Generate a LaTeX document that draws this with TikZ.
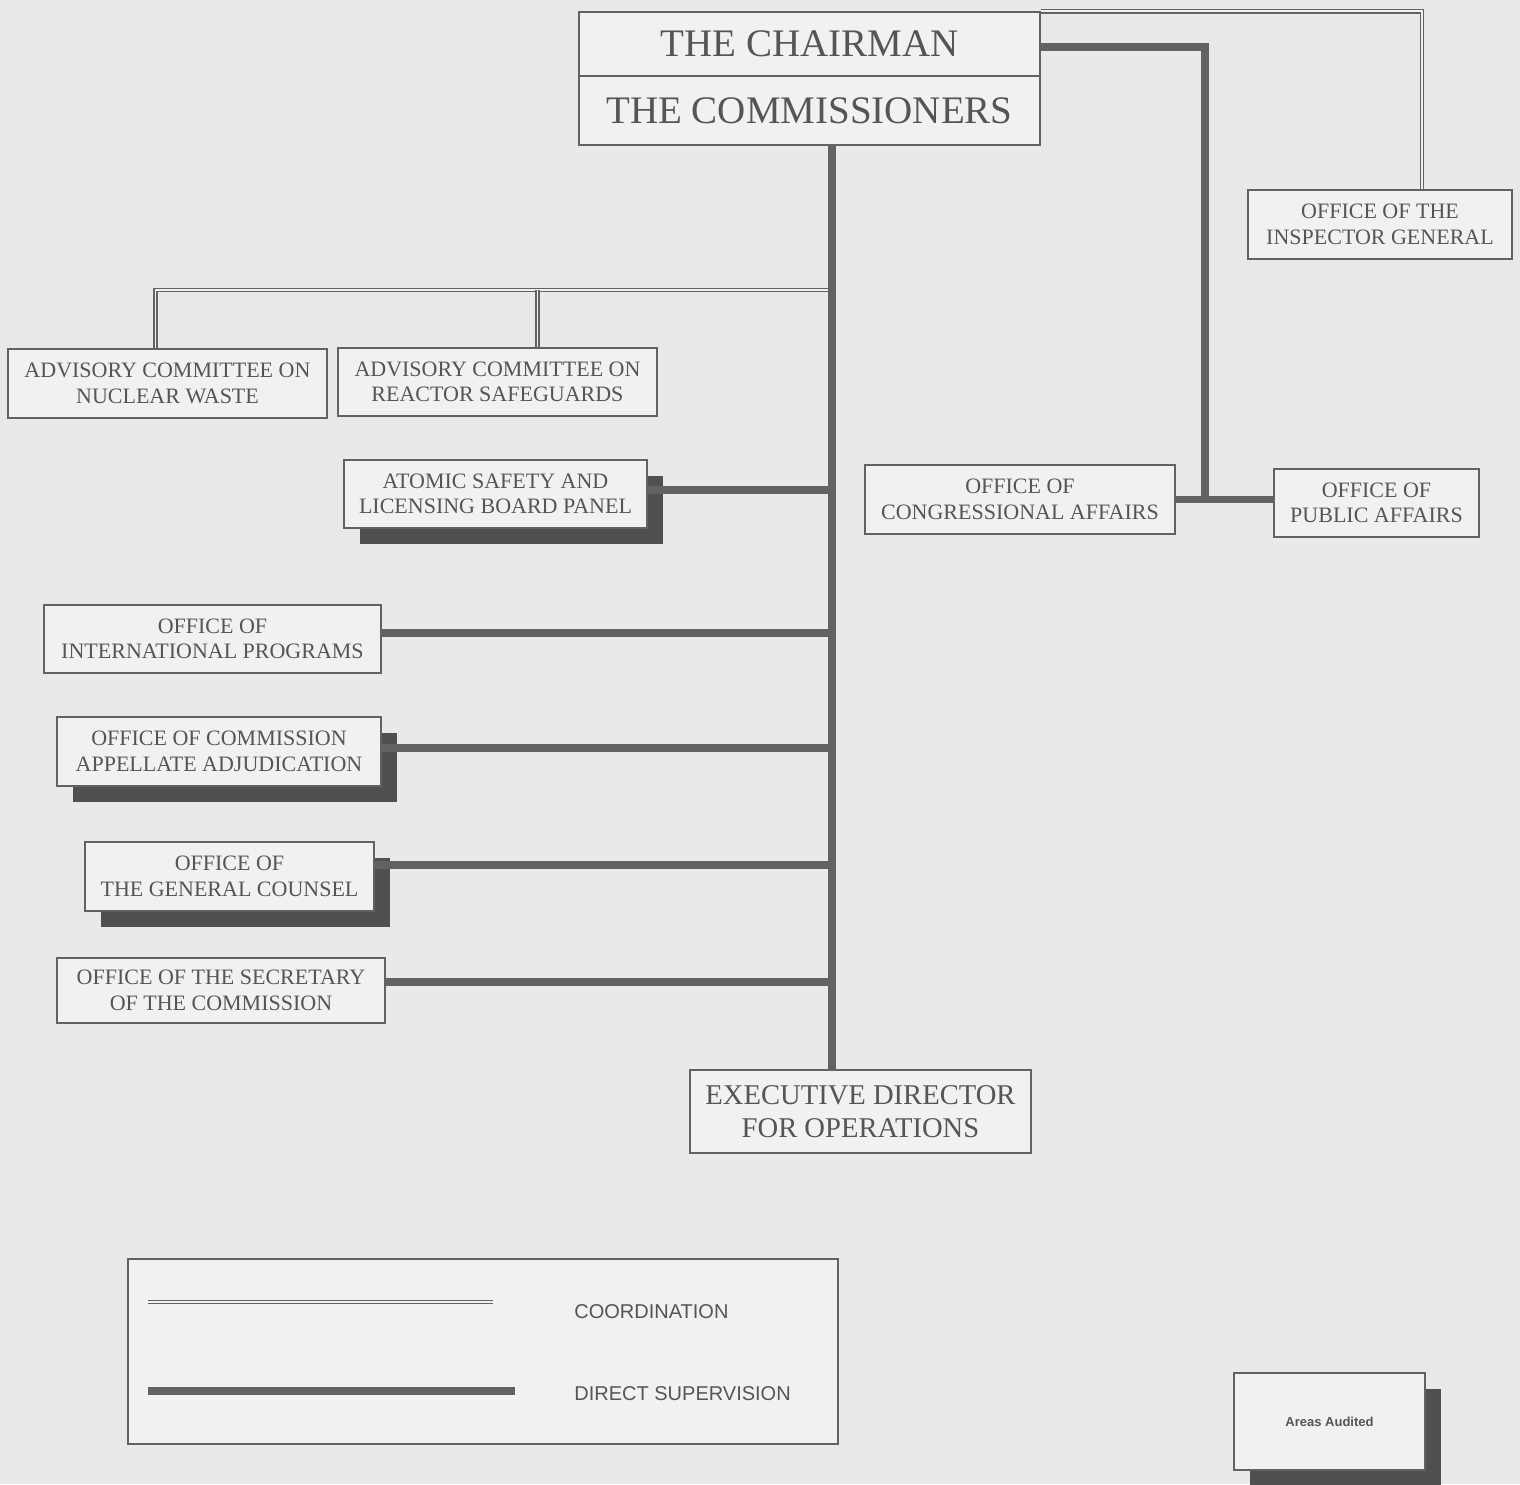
\documentclass[tikz,border=0pt]{standalone}
\usepackage{fontspec}
\setmainfont{Liberation Serif}
\newfontfamily\legendfont{Liberation Sans}
\usetikzlibrary{shadows}

\definecolor{bgcol}{RGB}{233,233,231}
\definecolor{boxcol}{RGB}{241,241,239}
\definecolor{inkcol}{RGB}{85,85,85}
\definecolor{rulecol}{RGB}{98,98,98}
\definecolor{shadecol}{RGB}{80,80,80}

\begin{document}
\begin{tikzpicture}[x=0.5pt, y=-0.5pt,
    unit/.style={draw=rulecol, line width=0.7pt, fill=boxcol, text=inkcol, align=center,
        inner sep=0pt, font=\fontsize{11}{12.8}\selectfont},
    audited/.style={unit, drop shadow={shadow xshift=8pt, shadow yshift=-8pt, fill=shadecol, opacity=1}},
    superv/.style={draw=rulecol, line width=3.8pt},
    coord/.style={draw=rulecol, line width=0.7pt, double=boxcol, double distance=0.9pt}]
        \useasboundingbox (0,0) rectangle (1520,1484);
        \fill[bgcol] (0,0) rectangle (1520,1484);

        % the commission
        \node[unit, minimum width=230.5pt, minimum height=32pt, font=\fontsize{19.5}{22}\selectfont] (chair) at (809.5, 44) {THE CHAIRMAN};
        \node[unit, minimum width=230.5pt, minimum height=34.5pt, font=\fontsize{19.5}{22}\selectfont] (comm) at (809.5, 110.5) {THE COMMISSIONERS};

        \node[unit, minimum width=132pt, minimum height=34.5pt] (oig) at (1380, 224.5) {OFFICE OF THE\\INSPECTOR GENERAL};
        \node[unit, minimum width=159.5pt, minimum height=34.5pt] (acnw) at (167.5, 383.5) {ADVISORY COMMITTEE ON\\NUCLEAR WASTE};
        \node[unit, minimum width=159.5pt, minimum height=34pt] (acrs) at (497.5, 382) {ADVISORY COMMITTEE ON\\REACTOR SAFEGUARDS};
        \node[audited, minimum width=151.5pt, minimum height=34pt] (aslbp) at (495.5, 494) {ATOMIC SAFETY AND\\LICENSING BOARD PANEL};
        \node[unit, minimum width=155pt, minimum height=34.5pt] (cong) at (1020, 499.5) {OFFICE OF\\CONGRESSIONAL AFFAIRS};
        \node[unit, minimum width=102.5pt, minimum height=34pt] (pub) at (1376.5, 503) {OFFICE OF\\PUBLIC AFFAIRS};
        \node[unit, minimum width=168.5pt, minimum height=34pt] (oip) at (212.5, 639) {OFFICE OF\\INTERNATIONAL PROGRAMS};
        \node[audited, minimum width=162pt, minimum height=34.5pt] (ocaa) at (219, 751.5) {OFFICE OF COMMISSION\\APPELLATE ADJUDICATION};
        \node[audited, minimum width=144.5pt, minimum height=34.5pt] (ogc) at (229.5, 876.5) {OFFICE OF\\THE GENERAL COUNSEL};
        \node[unit, minimum width=164pt, minimum height=32.5pt] (secy) at (221, 990.5) {OFFICE OF THE SECRETARY\\OF THE COMMISSION};
        \node[unit, minimum width=170.5pt, minimum height=41.5pt, font=\fontsize{14.3}{16.5}\selectfont] (edo) at (860.5, 1111.5) {EXECUTIVE DIRECTOR\\FOR OPERATIONS};

        \coordinate (spine) at (832, 0);
        \coordinate (cj) at (832, 290);
        \coordinate (pa) at (1205, 0);
        \coordinate (ig) at (1422, 0);

        % coordination
        \draw[coord] (chair.north east) -| (oig.north -| ig);
        \draw[coord] (cj) -| ([xshift=-6pt]acnw.north);
        \draw[coord] ([xshift=20pt]acrs.north) -- ([xshift=20pt]acrs.north |- cj);

        % direct supervision
        \draw[superv] (comm.south -| spine) -- (edo.north -| spine);
        \draw[superv] ([yshift=2pt]aslbp.east) -- ([yshift=2pt]aslbp.east -| spine);
        \draw[superv] ([yshift=3pt]oip.east) -- ([yshift=3pt]oip.east -| spine);
        \draw[superv] ([yshift=1.75pt]ocaa.east) -- ([yshift=1.75pt]ocaa.east -| spine);
        \draw[superv] ([yshift=5.75pt]ogc.east) -- ([yshift=5.75pt]ogc.east -| spine);
        \draw[superv] ([yshift=4.25pt]secy.east) -- ([yshift=4.25pt]secy.east -| spine);
        \draw[superv] ([yshift=-1.5pt]chair.east) -| (cong.east -| pa);
        \draw[superv] (cong.east) -- (cong.east -| pub.west);

        % legend
        \node[unit, minimum width=355pt, minimum height=92.5pt] (legend) at (483, 1351.5) {};
        \coordinate (lc) at (148, 1302);
        \coordinate (lcend) at (493, 1302);
        \coordinate (ls) at (148, 1391);
        \coordinate (lsend) at (515, 1391);
        \draw[coord] (lc) -- (lcend);
        \draw[superv] (ls) -- (lsend);
        \node[anchor=west, inner sep=0pt, text=inkcol, font=\legendfont\fontsize{10}{12}\selectfont] (lctext) at (574, 1312) {COORDINATION};
        \node[anchor=west, inner sep=0pt, text=inkcol, font=\legendfont\fontsize{10}{12}\selectfont] (lstext) at (574, 1394) {DIRECT SUPERVISION};

        \node[audited, minimum width=95.5pt, minimum height=48.5pt, font=\legendfont\bfseries\fontsize{6.5}{8}\selectfont] (areas) at (1329.5, 1421.5) {Areas Audited};
\end{tikzpicture}
\end{document}
